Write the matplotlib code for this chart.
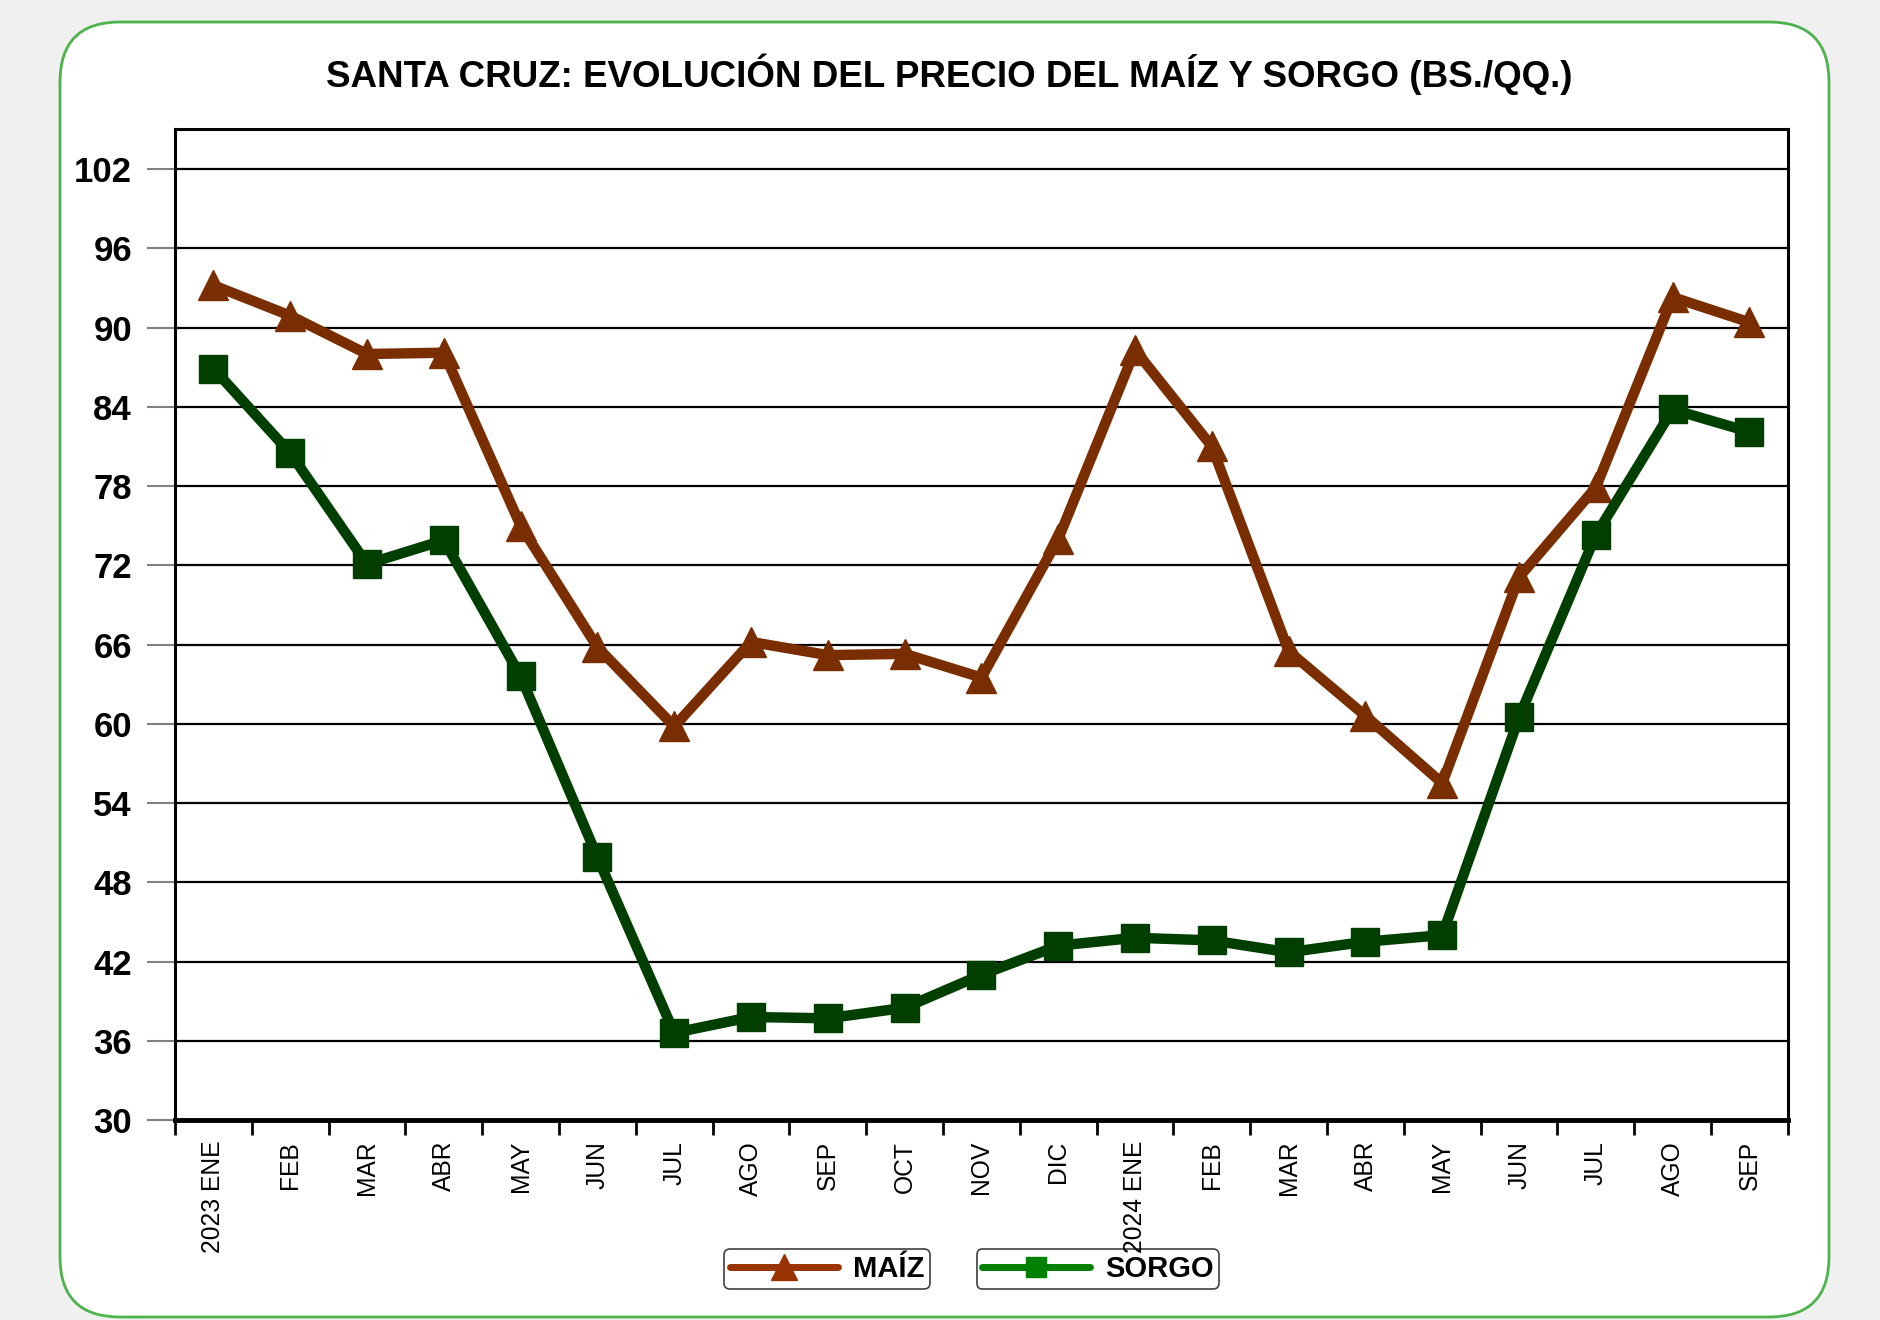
import matplotlib.pyplot as plt
from matplotlib.patches import FancyBboxPatch
from matplotlib.lines import Line2D
from matplotlib.ticker import FixedLocator, NullFormatter

# data (Bs./qq.)
months = ['2023 ENE', 'FEB', 'MAR', 'ABR', 'MAY', 'JUN', 'JUL', 'AGO', 'SEP', 'OCT', 'NOV', 'DIC',
          '2024 ENE', 'FEB', 'MAR', 'ABR', 'MAY', 'JUN', 'JUL', 'AGO', 'SEP']
maiz = [93.2, 90.9, 88.0, 88.1, 75.0, 65.8, 59.8, 66.2, 65.2, 65.3, 63.5, 74.0,
        88.3, 81.0, 65.5, 60.6, 55.5, 71.1, 77.9, 92.3, 90.4]
sorgo = [86.9, 80.5, 72.1, 73.9, 63.6, 49.9, 36.6, 37.8, 37.7, 38.5, 41.0, 43.2,
         43.8, 43.6, 42.7, 43.5, 44.0, 60.5, 74.3, 83.8, 82.1]
y_ticks = [30, 36, 42, 48, 54, 60, 66, 72, 78, 84, 90, 96, 102]

plt.rcParams['font.family'] = ['Liberation Sans', 'DejaVu Sans']

fig = plt.figure(figsize=(18.8, 13.2), dpi=100, facecolor='#f0f0f0')

# rounded white panel with green border
panel = FancyBboxPatch((0.60, 0.03), 17.69, 12.95,
                       boxstyle='round,pad=0,rounding_size=0.6',
                       transform=fig.dpi_scale_trans,
                       facecolor='white', edgecolor='#4db34d', linewidth=2, zorder=0)
fig.add_artist(panel)

ax = fig.add_axes([0.0931, 0.1515, 0.8579, 0.7504], zorder=1)
ax.set_facecolor('white')

x = list(range(len(months)))
ax.plot(x, maiz, color='#7a2e00', lw=7.5, marker='^', ms=21, zorder=3, solid_joinstyle='round')
ax.plot(x, sorgo, color='#003f00', lw=7.5, marker='s', ms=20, zorder=3, solid_joinstyle='round')

ax.set_xlim(-0.5, len(months) - 0.5)
ax.set_ylim(30, 105)

# y axis
ax.set_yticks(y_ticks)
ax.set_yticklabels([str(v) for v in y_ticks], fontsize=25, fontweight='bold')
ax.tick_params(axis='y', length=20, width=1.5, color='#808080', pad=11)
ax.yaxis.grid(True, color='black', lw=1.6)
ax.set_axisbelow(True)

# x axis: ticks on category boundaries, labels in the middle
ax.xaxis.set_major_locator(FixedLocator([i - 0.5 for i in range(len(months) + 1)]))
ax.xaxis.set_major_formatter(NullFormatter())
ax.xaxis.set_minor_locator(FixedLocator(x))
ax.set_xticks(x, months, minor=True, rotation=90, fontsize=17.7, va='top')
ax.tick_params(axis='x', which='major', length=11, width=2, color='black')
ax.tick_params(axis='x', which='minor', length=0, pad=15)

for side in ['left', 'right', 'top']:
    ax.spines[side].set_linewidth(2.2)
ax.spines['bottom'].set_linewidth(3.5)

fig.text(0.505, 0.944, 'SANTA CRUZ: EVOLUCIÓN DEL PRECIO DEL MAÍZ Y SORGO (BS./QQ.)',
         ha='center', va='center', fontsize=26.5, fontweight='bold')

# two separate legend boxes (drawn beneath the tick labels, as in the source)
h_maiz = Line2D([], [], color='#993300', lw=5, marker='^', ms=19, solid_capstyle='round')
h_sorgo = Line2D([], [], color='#008000', lw=5, marker='s', ms=14, solid_capstyle='round')
leg_kw = dict(loc='center', bbox_transform=fig.transFigure, handlelength=3.7,
              fancybox=True, edgecolor='#404040', framealpha=1,
              prop={'weight': 'bold', 'size': 21}, borderpad=0.2, handletextpad=0.5)
leg1 = ax.legend([h_maiz], ['MAÍZ'], bbox_to_anchor=(0.440, 0.0385), **leg_kw)
ax.add_artist(leg1)
leg2 = ax.legend([h_sorgo], ['SORGO'], bbox_to_anchor=(0.584, 0.0385), **leg_kw)
for leg in (leg1, leg2):
    leg.get_frame().set_linewidth(1.2)
    leg.set_zorder(0.3)

fig.savefig('out.png', dpi=100, facecolor=fig.get_facecolor())
